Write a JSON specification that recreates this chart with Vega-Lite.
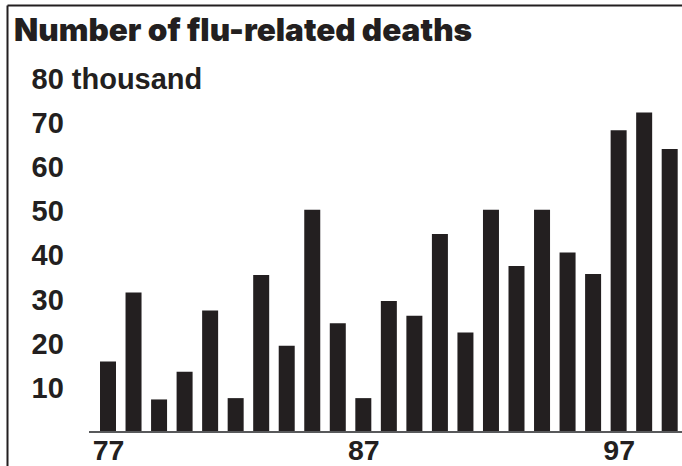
{
  "$schema": "https://vega.github.io/schema/vega-lite/v6.json",
  "autosize": "none",
  "width": 675,
  "height": 461,
  "padding": {"left": 7, "top": 5, "right": 0, "bottom": 0},
  "background": "white",
  "config": {"view": {"stroke": null}},
  "title": {
    "text": "Number of flu-related deaths",
    "anchor": "start",
    "frame": "group",
    "orient": "top",
    "baseline": "alphabetic",
    "font": "Inter",
    "fontWeight": 900,
    "fontSize": 31.5,
    "color": "#231f20",
    "offset": -27,
    "dx": 7,
    "dy": 40
  },
  "data": {
    "values": [
      {"year": 77, "deaths": 16.0},
      {"year": 78, "deaths": 31.7},
      {"year": 79, "deaths": 7.4},
      {"year": 80, "deaths": 13.7},
      {"year": 81, "deaths": 27.6},
      {"year": 82, "deaths": 7.7},
      {"year": 83, "deaths": 35.7},
      {"year": 84, "deaths": 19.6},
      {"year": 85, "deaths": 50.5},
      {"year": 86, "deaths": 24.7},
      {"year": 87, "deaths": 7.7},
      {"year": 88, "deaths": 29.8},
      {"year": 89, "deaths": 26.4},
      {"year": 90, "deaths": 45.0},
      {"year": 91, "deaths": 22.6},
      {"year": 92, "deaths": 50.5},
      {"year": 93, "deaths": 37.7},
      {"year": 94, "deaths": 50.5},
      {"year": 95, "deaths": 40.8},
      {"year": 96, "deaths": 35.9},
      {"year": 97, "deaths": 68.6},
      {"year": 98, "deaths": 72.6},
      {"year": 99, "deaths": 64.3}
    ]
  },
  "layer": [
    {
      "mark": {"type": "bar", "width": 16, "color": "#231f20"},
      "encoding": {
        "x": {
          "field": "year",
          "type": "quantitative",
          "scale": {"domain": [73.044, 99.482], "nice": false, "zero": false, "padding": 0},
          "axis": {
            "orient": "bottom",
            "title": null,
            "values": [77, 87, 97],
            "domain": false,
            "ticks": false,
            "grid": false,
            "labelFont": "Liberation Sans",
            "labelFontWeight": "bold",
            "labelFontSize": 28.5,
            "labelColor": "#231f20",
            "labelBaseline": "alphabetic",
            "labelPadding": -7,
            "labelFlush": false,
            "labelOverlap": false,
            "labelBound": false,
            "minExtent": 0
          }
        },
        "y": {
          "field": "deaths",
          "type": "quantitative",
          "scale": {"domain": [-7.727, 97.045], "nice": false, "zero": false},
          "axis": {
            "orient": "left",
            "title": null,
            "values": [10, 20, 30, 40, 50, 60, 70, 80],
            "labelExpr": "datum.value == 80 ? '80 thousand' : datum.label",
            "domain": true,
            "domainColor": "#231f20",
            "domainWidth": 2,
            "ticks": false,
            "grid": false,
            "labelFont": "Liberation Sans",
            "labelFontWeight": "bold",
            "labelFontSize": 29,
            "labelColor": "#231f20",
            "labelAlign": "left",
            "labelPadding": -24,
            "labelFlush": false,
            "labelOverlap": false,
            "labelBound": false,
            "minExtent": 0
          }
        },
        "y2": {"datum": 0}
      }
    },
    {
      "mark": {"type": "rule", "color": "#58595b", "strokeWidth": 2},
      "encoding": {
        "x": {
          "datum": 76.256,
          "type": "quantitative",
          "axis": {
            "orient": "top",
            "title": null,
            "labels": false,
            "ticks": false,
            "grid": false,
            "domain": true,
            "domainColor": "#231f20",
            "domainWidth": 2,
            "minExtent": 0,
            "maxExtent": 0
          }
        },
        "x2": {"datum": 99.482},
        "y": {
          "datum": 0,
          "type": "quantitative",
          "axis": {
            "orient": "left",
            "title": null,
            "values": [10, 20, 30, 40, 50, 60, 70, 80],
            "labelExpr": "datum.value == 80 ? '80 thousand' : datum.label",
            "domain": true,
            "domainColor": "#231f20",
            "domainWidth": 2,
            "ticks": false,
            "grid": false,
            "labelFont": "Liberation Sans",
            "labelFontWeight": "bold",
            "labelFontSize": 29,
            "labelColor": "#231f20",
            "labelAlign": "left",
            "labelPadding": -24,
            "labelFlush": false,
            "labelOverlap": false,
            "labelBound": false,
            "minExtent": 0
          }
        }
      }
    }
  ]
}
